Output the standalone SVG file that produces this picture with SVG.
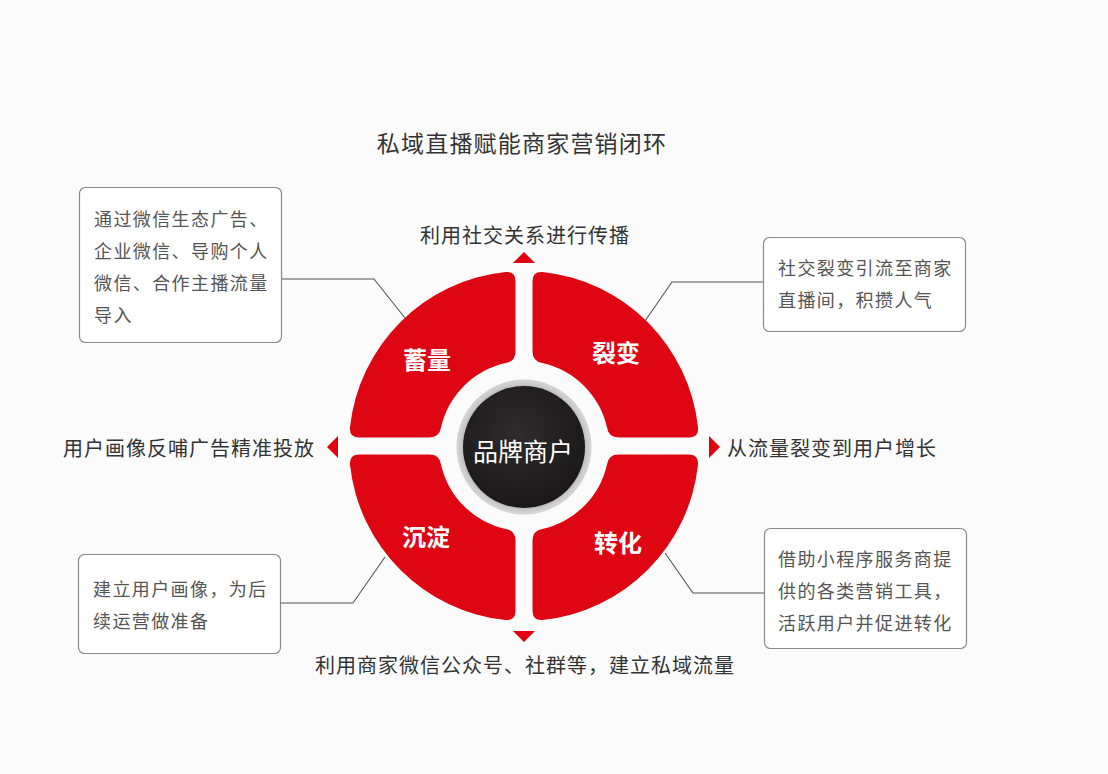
<svg xmlns="http://www.w3.org/2000/svg" width="1108" height="774" viewBox="0 0 1108 774">
<style>
.t{font-family:"Noto Sans CJK SC","Noto Sans",sans-serif;fill:#333;}
.lbl{font-size:20px;letter-spacing:1px;text-anchor:middle;dominant-baseline:central;}
.box{fill:#fff;stroke:#8a8a8a;stroke-width:1.2;}
.bt{font-family:"Noto Sans CJK SC","Noto Sans",sans-serif;fill:#555;font-size:18px;letter-spacing:1.4px;dominant-baseline:central;}
.q{fill:url(#red);}
.ql{font-family:"Noto Sans CJK SC","Noto Sans",sans-serif;fill:#fff;font-size:24px;font-weight:bold;text-anchor:middle;dominant-baseline:central;}
.arr{fill:#e0000f;}
.con{fill:none;stroke:#555;stroke-width:1.1;}
</style>
<defs>
<radialGradient id="red" cx="524" cy="446" r="175" gradientUnits="userSpaceOnUse">
<stop offset="0.5" stop-color="#c8000c"/>
<stop offset="1" stop-color="#dd0612"/>
</radialGradient>
<radialGradient id="ring" cx="0.5" cy="0.5" r="0.5">
<stop offset="0.85" stop-color="#8f8f8f"/>
<stop offset="0.93" stop-color="#c9c9c9"/>
<stop offset="1" stop-color="#d6d6d6"/>
</radialGradient>
<radialGradient id="core" cx="0.45" cy="0.4" r="0.6">
<stop offset="0" stop-color="#2e2c2d"/>
<stop offset="1" stop-color="#1a1818"/>
</radialGradient>
<path id="quad" d="M 8.5,-164.79 Q 8.5,-174.79 18.47,-174.02 A 175 175 0 0 1 174.02,-18.47 Q 174.79,-8.5 164.79,-8.5 L 94.57,-8.5 Q 84.57,-8.5 82.98,-18.40 A 85 85 0 0 0 18.37,-82.99 Q 8.5,-84.57 8.5,-94.57 Z"/>
</defs>
<rect width="1108" height="774" fill="#fbfbfb"/>
<text class="t" x="522" y="142" font-size="23" letter-spacing="1.2" text-anchor="middle" dominant-baseline="central">私域直播赋能商家营销闭环</text>

<g id="connectors">
<polyline class="con" points="282,279 374,279 405,318"/>
<polyline class="con" points="763,282 672,282 645,321"/>
<polyline class="con" points="764,593 693,593 665,553"/>
<polyline class="con" points="281,603 353,603 385,557"/>
</g>

<g id="ring">
<g id="q-xuliang">
<use href="#quad" class="q" transform="translate(524,446) scale(-1,1)"/>
<text class="ql" x="427" y="358">蓄量</text>
</g>
<g id="q-liebian">
<use href="#quad" class="q" transform="translate(524,446)"/>
<text class="ql" x="616" y="351">裂变</text>
</g>
<g id="q-chendian">
<use href="#quad" class="q" transform="translate(524,446) scale(-1,-1)"/>
<text class="ql" x="426" y="535">沉淀</text>
</g>
<g id="q-zhuanhua">
<use href="#quad" class="q" transform="translate(524,446) scale(1,-1)"/>
<text class="ql" x="618" y="541">转化</text>
</g>
</g>

<g id="center">
<circle cx="524" cy="447" r="67.5" fill="url(#ring)"/>
<circle cx="524" cy="447" r="61" fill="url(#core)"/>
<text class="t" x="523" y="450" font-size="25" fill="#fff" style="fill:#fff" text-anchor="middle" dominant-baseline="central">品牌商户</text>
</g>

<g id="arrows">
<polygon class="arr" points="513,263 535,263 524,252"/>
<polygon class="arr" points="513,631 535,631 524,642"/>
<polygon class="arr" points="338,436 338,458 327,447"/>
<polygon class="arr" points="709,436 709,458 720,447"/>
</g>

<g id="label-top"><text class="t lbl" x="525" y="234">利用社交关系进行传播</text></g>
<g id="label-right"><text class="t lbl" x="832" y="447">从流量裂变到用户增长</text></g>
<g id="label-left"><text class="t lbl" x="189" y="447">用户画像反哺广告精准投放</text></g>
<g id="label-bottom"><text class="t lbl" x="525" y="664">利用商家微信公众号、社群等，建立私域流量</text></g>

<g id="box-topleft">
<rect class="box" x="79.5" y="187.5" width="202" height="155" rx="6"/>
<text class="bt" x="94" y="218">通过微信生态广告、</text>
<text class="bt" x="94" y="250">企业微信、导购个人</text>
<text class="bt" x="94" y="282">微信、合作主播流量</text>
<text class="bt" x="94" y="314">导入</text>
</g>
<g id="box-topright">
<rect class="box" x="763.5" y="237.5" width="202" height="94" rx="6"/>
<text class="bt" x="778" y="267">社交裂变引流至商家</text>
<text class="bt" x="778" y="299">直播间，积攒人气</text>
</g>
<g id="box-bottomright">
<rect class="box" x="764.5" y="528.5" width="202" height="120" rx="6"/>
<text class="bt" x="778" y="558">借助小程序服务商提</text>
<text class="bt" x="778" y="590">供的各类营销工具，</text>
<text class="bt" x="778" y="622">活跃用户并促进转化</text>
</g>
<g id="box-bottomleft">
<rect class="box" x="78.5" y="554.5" width="202" height="99" rx="6"/>
<text class="bt" x="93" y="588">建立用户画像，为后</text>
<text class="bt" x="93" y="620">续运营做准备</text>
</g>
</svg>
